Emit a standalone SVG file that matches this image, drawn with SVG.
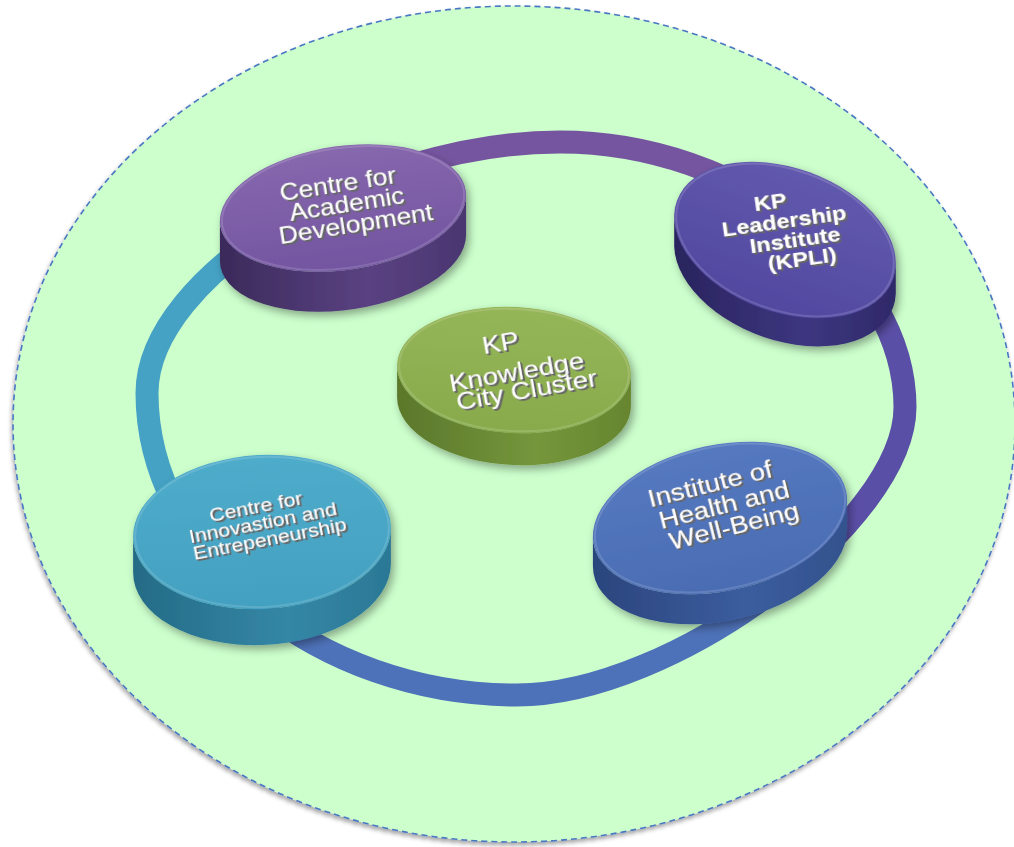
<svg xmlns="http://www.w3.org/2000/svg" width="1014" height="847" viewBox="0 0 1014 847">
  <defs>
    <style>
      .lbl { font-family: "Liberation Sans", Arial, sans-serif; fill: #ffffff; text-anchor: middle; filter: url(#extrude); }
      .bold { font-weight: bold; }
      .ring { fill: none; stroke-width: 23; }
      .rim { fill: none; stroke: #ffffff; stroke-opacity: 0.14; stroke-width: 2; }
    </style>
    <filter id="extrude" x="-10%" y="-20%" width="130%" height="160%">
      <feOffset in="SourceAlpha" dx="1" dy="1" result="o1"/>
      <feOffset in="SourceAlpha" dx="2" dy="2" result="o2"/>
      <feMerge result="m"><feMergeNode in="o1"/><feMergeNode in="o2"/></feMerge>
      <feFlood flood-color="#666666"/>
      <feComposite in2="m" operator="in" result="sh"/>
      <feMerge><feMergeNode in="sh"/><feMergeNode in="SourceGraphic"/></feMerge>
    </filter>
    <filter id="discShadow" x="-20%" y="-20%" width="140%" height="150%">
      <feDropShadow dx="3" dy="4" stdDeviation="4" flood-color="#000" flood-opacity="0.35"/>
    </filter>
    <filter id="padShadow" x="-5%" y="-5%" width="110%" height="110%">
      <feDropShadow dx="-1" dy="3" stdDeviation="2" flood-color="#000" flood-opacity="0.35"/>
    </filter>

    <linearGradient id="cadTop" x1="0" y1="0" x2="0" y2="1"><stop offset="0" stop-color="#8768ae"/><stop offset="1" stop-color="#7254a0"/></linearGradient>
    <linearGradient id="cadSide" x1="0" y1="0" x2="1" y2="0"><stop offset="0" stop-color="#3b2a5a"/><stop offset="0.6" stop-color="#5a4282"/><stop offset="1" stop-color="#4a3670"/></linearGradient>
    <linearGradient id="kpliTop" x1="0" y1="0" x2="0" y2="1"><stop offset="0" stop-color="#6259ae"/><stop offset="1" stop-color="#5148a0"/></linearGradient>
    <linearGradient id="kpliSide" x1="0" y1="0" x2="1" y2="0"><stop offset="0" stop-color="#29245e"/><stop offset="0.6" stop-color="#3d3680"/><stop offset="1" stop-color="#2e2968"/></linearGradient>
    <linearGradient id="grnTop" x1="0" y1="0" x2="0" y2="1"><stop offset="0" stop-color="#95b658"/><stop offset="1" stop-color="#88aa4b"/></linearGradient>
    <linearGradient id="grnSide" x1="0" y1="0" x2="1" y2="0"><stop offset="0" stop-color="#5b782b"/><stop offset="0.6" stop-color="#75963c"/><stop offset="1" stop-color="#66852f"/></linearGradient>
    <linearGradient id="cieTop" x1="0" y1="0" x2="0" y2="1"><stop offset="0" stop-color="#4faccb"/><stop offset="1" stop-color="#43a0c0"/></linearGradient>
    <linearGradient id="cieSide" x1="0" y1="0" x2="1" y2="0"><stop offset="0" stop-color="#246b86"/><stop offset="0.6" stop-color="#3487a6"/><stop offset="1" stop-color="#2b7895"/></linearGradient>
    <linearGradient id="ihwTop" x1="0" y1="0" x2="0" y2="1"><stop offset="0" stop-color="#5579c0"/><stop offset="1" stop-color="#4a6cb3"/></linearGradient>
    <linearGradient id="ihwSide" x1="0" y1="0" x2="1" y2="0"><stop offset="0" stop-color="#2b457d"/><stop offset="0.6" stop-color="#3b5d9e"/><stop offset="1" stop-color="#33528d"/></linearGradient>

    <!-- the loop is split into four coloured stretches; the cuts sit under the discs -->
    <clipPath id="clipTop"><polygon points="526,418 -699,-557 1896,-547"/></clipPath>
    <clipPath id="clipRight"><polygon points="526,418 1896,-547 1791,1348"/></clipPath>
    <clipPath id="clipBottom"><polygon points="526,418 1791,1348 -819,1353"/></clipPath>
    <clipPath id="clipLeft"><polygon points="526,418 -819,1353 -699,-557"/></clipPath>
    <path id="loop" d="M147,393 C147,275 366,142 560,142 C739,142 905,268 905,407 C905,522 672,695 517,695 C317,695 147,556 147,393 Z"/>
  </defs>

  <!-- background pad -->
  <ellipse id="pad" cx="514" cy="424" rx="501" ry="418" fill="#ccffcc" stroke="#4a78c2" stroke-width="1.6" stroke-dasharray="6 4" filter="url(#padShadow)"/>

  <!-- connecting loop -->
  <g id="connectors">
    <use href="#loop" class="ring" stroke="#7655a0" clip-path="url(#clipTop)"/>
    <use href="#loop" class="ring" stroke="#5a4fa6" clip-path="url(#clipRight)"/>
    <use href="#loop" class="ring" stroke="#4e72b9" clip-path="url(#clipBottom)"/>
    <use href="#loop" class="ring" stroke="#45a2c4" clip-path="url(#clipLeft)"/>
  </g>

  <!-- Centre for Academic Development -->
  <g id="node-cad">
    <g transform="translate(343,208)" filter="url(#discShadow)">
      <path fill="url(#cadSide)" d="M123.1,-12.9 L123.1,27.1 A124,62 -8 0 1 -123.1,52.9 L-123.1,12.9 A124,62 -8 0 0 123.1,-12.9 Z"/>
      <ellipse rx="124" ry="62" transform="rotate(-8)" fill="url(#cadTop)"/>
      <ellipse class="rim" rx="122" ry="60" transform="rotate(-8)"/>
    </g>
    <text class="lbl" font-size="23" transform="translate(339,192) rotate(-9) scale(1.15,1)">Centre for</text>
    <text class="lbl" font-size="23" transform="translate(348,212) rotate(-9) scale(1.15,1)">Academic</text>
    <text class="lbl" font-size="23" transform="translate(357,232) rotate(-9) scale(1.15,1)">Development</text>
  </g>

  <!-- KP Leadership Institute -->
  <g id="node-kpli">
    <g transform="translate(785,240)" filter="url(#discShadow)">
      <path fill="url(#kpliSide)" d="M110.8,23.4 L110.8,53.4 A115,72 20 0 1 -110.8,6.6 L-110.8,-23.4 A115,72 20 0 0 110.8,23.4 Z"/>
      <ellipse rx="115" ry="72" transform="rotate(20)" fill="url(#kpliTop)"/>
      <ellipse class="rim" rx="113" ry="70" transform="rotate(20)"/>
    </g>
    <text class="lbl bold" font-size="21" transform="translate(771,209) rotate(-8) scale(1.12,1)">KP</text>
    <text class="lbl bold" font-size="21" transform="translate(785,228) rotate(-8) scale(1.12,1)">Leadership</text>
    <text class="lbl bold" font-size="21" transform="translate(796,247) rotate(-8) scale(1.12,1)">Institute</text>
    <text class="lbl bold" font-size="21" transform="translate(803,266) rotate(-8) scale(1.12,1)">(KPLI)</text>
  </g>

  <!-- KP Knowledge City Cluster (centre) -->
  <g id="node-hub">
    <g transform="translate(514,370)" filter="url(#discShadow)">
      <path fill="url(#grnSide)" d="M116.9,4.3 L116.9,36.3 A117,63 3 0 1 -116.9,27.7 L-116.9,-4.3 A117,63 3 0 0 116.9,4.3 Z"/>
      <ellipse rx="117" ry="63" transform="rotate(3)" fill="url(#grnTop)"/>
      <ellipse class="rim" rx="115" ry="61" transform="rotate(3)"/>
    </g>
    <text class="lbl" font-size="24" transform="translate(502,351) rotate(-10) scale(1.15,1)">KP</text>
    <text class="lbl" font-size="24" transform="translate(518,380) rotate(-10) scale(1.15,1)">Knowledge</text>
    <text class="lbl" font-size="24" transform="translate(528,398) rotate(-10) scale(1.15,1)">City Cluster</text>
  </g>

  <!-- Centre for Innovation and Entrepreneurship -->
  <g id="node-cie">
    <g transform="translate(262,532)" filter="url(#discShadow)">
      <path fill="url(#cieSide)" d="M128.9,-4.3 L128.9,31.7 A129,77 -3 0 1 -128.9,40.3 L-128.9,4.3 A129,77 -3 0 0 128.9,-4.3 Z"/>
      <ellipse rx="129" ry="77" transform="rotate(-3)" fill="url(#cieTop)"/>
      <ellipse class="rim" rx="127" ry="75" transform="rotate(-3)"/>
    </g>
    <text class="lbl" font-size="18" transform="translate(257,513) rotate(-11) scale(1.18,1)">Centre for</text>
    <text class="lbl" font-size="18" transform="translate(264,529) rotate(-11) scale(1.18,1)">Innovastion and</text>
    <text class="lbl" font-size="18" transform="translate(271,545) rotate(-11) scale(1.18,1)">Entrepeneurship</text>
  </g>

  <!-- Institute of Health and Well-Being -->
  <g id="node-ihwb">
    <g transform="translate(720,518)" filter="url(#discShadow)">
      <path fill="url(#ihwSide)" d="M127.1,-17.8 L127.1,12.2 A129,73 -12 0 1 -127.1,47.8 L-127.1,17.8 A129,73 -12 0 0 127.1,-17.8 Z"/>
      <ellipse rx="129" ry="73" transform="rotate(-12)" fill="url(#ihwTop)"/>
      <ellipse class="rim" rx="127" ry="71" transform="rotate(-12)"/>
    </g>
    <text class="lbl" font-size="24" transform="translate(712,492) rotate(-14) scale(1.15,1)">Institute of</text>
    <text class="lbl" font-size="24" transform="translate(726,513) rotate(-14) scale(1.15,1)">Health and</text>
    <text class="lbl" font-size="24" transform="translate(736,534) rotate(-14) scale(1.15,1)">Well-Being</text>
  </g>
</svg>
